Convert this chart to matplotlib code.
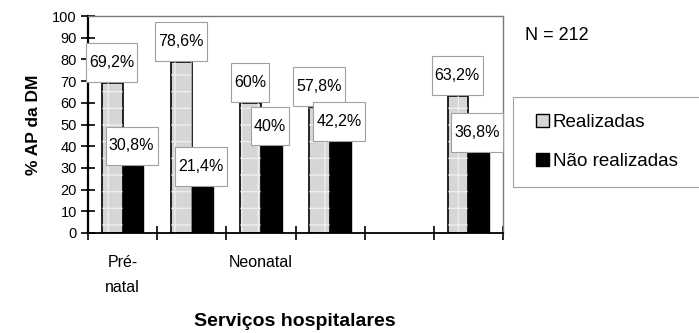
import matplotlib
matplotlib.use('Agg')
import matplotlib.pyplot as plt
from matplotlib.path import Path
from matplotlib.patches import Rectangle, Patch
import numpy as np

plt.rcParams['font.family'] = ['Liberation Sans', 'DejaVu Sans']

# Data
categories = ['Pré-\nnatal', '', 'Neonatal', '', '', '']
realizadas = [69.2, 78.6, 60.0, 57.8, np.nan, 63.2]
nao_realizadas = [30.8, 21.4, 40.0, 42.2, np.nan, 36.8]
label_real = ['69,2%', '78,6%', '60%', '57,8%', '', '63,2%']
label_nao = ['30,8%', '21,4%', '40%', '42,2%', '', '36,8%']

bar_w = 0.3
grey = '#d6d6d6'


def label_box(x0, y0, width, height, mutation_size):
    # wide vertical padding, narrow horizontal padding like the original boxes
    px = 0.2 * mutation_size
    py = 0.75 * mutation_size
    x0, y0 = x0 - px, y0 - py
    x1, y1 = x0 + width + 2 * px, y0 + height + 2 * py
    return Path([(x0, y0), (x1, y0), (x1, y1), (x0, y1), (x0, y0)], closed=True)


fig = plt.figure(figsize=(6.99, 3.33), dpi=100)
ax = fig.add_axes([88 / 699, 100 / 333, 415 / 699, 217 / 333])

x = np.arange(len(categories))
ok = ~np.isnan(realizadas)
ax.bar(x[ok] - bar_w / 2, np.array(realizadas)[ok], bar_w, color=grey,
       edgecolor='black', linewidth=1.2, zorder=2)
# faint white grid texture on the light bars
ax.bar(x[ok] - bar_w / 2, np.array(realizadas)[ok], bar_w, facecolor='none',
       edgecolor='white', linewidth=0, hatch='+', alpha=0.6, zorder=2)
ax.bar(x[ok] + bar_w / 2, np.array(nao_realizadas)[ok], bar_w, color='black',
       edgecolor='black', linewidth=1.0, zorder=2)

box = dict(boxstyle=label_box, facecolor='white', edgecolor='#a0a0a0', linewidth=0.8)
for i in x[ok]:
    ax.text(i - 0.16, realizadas[i] + 9.5, label_real[i], ha='center', va='center',
            fontsize=11.5, bbox=box, zorder=5)
    ax.text(i + 0.13, nao_realizadas[i] + 9.3, label_nao[i], ha='center', va='center',
            fontsize=11.5, bbox=box, zorder=5)

ax.set_xlim(-0.5, len(categories) - 0.5)
ax.set_ylim(0, 100)
ax.set_yticks(np.arange(0, 101, 10))
ax.set_xticks(x)
ax.set_xticklabels(categories, fontsize=11.5, linespacing=1.8, va='top')
ax.set_xticks(np.arange(-0.5, len(categories), 1), minor=True)
ax.tick_params(axis='x', which='major', length=0, pad=16)
ax.tick_params(axis='x', which='minor', direction='inout', length=10, width=1.2)
ax.tick_params(axis='y', direction='inout', length=10, width=1.2, labelsize=10.5, pad=3)

ax.spines['left'].set_linewidth(1.6)
ax.spines['bottom'].set_linewidth(1.3)
for s in ['top', 'right']:
    ax.spines[s].set_color('#7a7a7a')
    ax.spines[s].set_linewidth(1.0)

ax.set_ylabel('% AP da DM', fontsize=12.5, fontweight='bold', labelpad=8)
fig.text(295 / 699, 1 - 321 / 333, 'Serviços hospitalares', fontsize=14,
         fontweight='bold', ha='center', va='center')

fig.text(525 / 699, 1 - 35 / 333, 'N = 212', fontsize=13, va='center', ha='left')

# legend frame runs off the right edge like the original
fig.patches.append(Rectangle((513 / 699, (333 - 187) / 333), 200 / 699, 90 / 333,
                             transform=fig.transFigure, facecolor='white',
                             edgecolor='#a0a0a0', linewidth=0.8, zorder=0))
handles = [Patch(facecolor=grey, edgecolor='black', linewidth=1.0),
           Patch(facecolor='black', edgecolor='black', linewidth=1.0)]
fig.legend(handles, ['Realizadas', 'Não realizadas'], loc='center left',
           bbox_to_anchor=(536 / 699, 1 - 142 / 333), frameon=False, fontsize=13.5,
           handlelength=0.7, handleheight=0.7, handletextpad=0.2, labelspacing=1.2,
           borderpad=0, borderaxespad=0)

fig.savefig('out.png', dpi=100)
